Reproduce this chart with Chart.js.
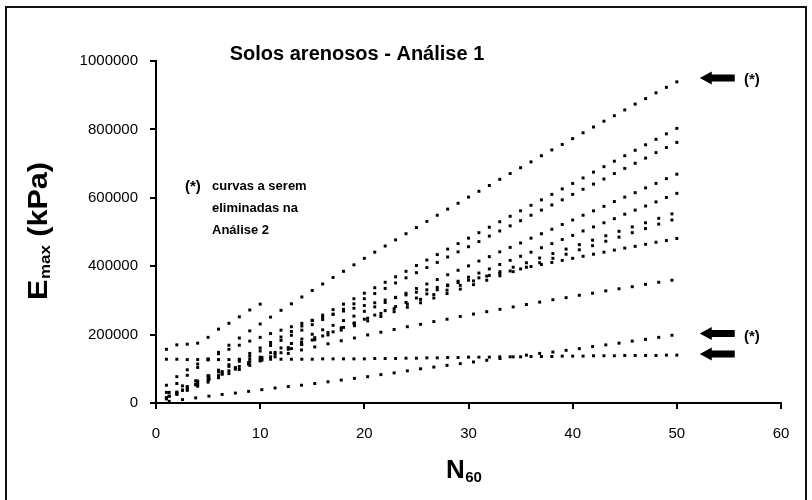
<!DOCTYPE html>
<html>
<head>
<meta charset="utf-8">
<title>Solos arenosos - Análise 1</title>
<script src="https://cdn.jsdelivr.net/npm/chart.js@4.4.0/dist/chart.umd.min.js"></script>
<style>
  html, body { margin: 0; padding: 0; background: #fff; }
</style>
</head>
<body>
<canvas id="emaxChart" width="812" height="500"></canvas>
<script>
// N60 values: most correlations at every integer blow count,
// the corrected ones (factor 1.27) on their own grid
const n60Steps = [1, 2, 3, 4, 5, 6, 7, 8, 9, 10, 11, 12, 13, 14, 15, 16, 17, 18, 19, 20,
  21, 22, 23, 24, 25, 26, 27, 28, 29, 30, 31, 32, 33, 34, 35, 36, 37, 38, 39, 40,
  41, 42, 43, 44, 45, 46, 47, 48, 49, 50];
const n60Corrected = [1.27, 2.54, 3.81, 5.08, 6.35, 7.62, 8.89, 10.16, 11.43, 12.70,
  13.97, 15.24, 16.51, 17.78, 19.05, 20.32, 21.59, 22.86, 24.13, 25.40,
  26.67, 27.94, 29.21, 30.48, 31.75, 33.02, 34.29, 35.56, 36.83, 38.10,
  39.37, 40.64, 41.91, 43.18, 44.45, 45.72, 46.99, 48.26, 49.53];
const n60Short = [1, 2, 3, 4, 5, 6, 7, 8, 9, 10];

// Emax (kPa) for each correlation
const emaxA = [31000, 57000, 81000, 104000, 126000, 148000, 169000, 190000, 211000, 231000,
  251000, 271000, 290000, 310000, 329000, 348000, 367000, 385000, 404000, 423000,
  441000, 459000, 477000, 495000, 513000, 531000, 549000, 567000, 584000, 602000,
  619000, 636000, 654000, 671000, 688000, 705000, 723000, 740000, 756000, 773000,
  790000, 807000, 824000, 840000, 857000, 874000, 890000, 907000, 923000, 939000];
const emaxB = [16000, 32000, 48000, 64000, 80000, 96000, 112000, 128000, 145000, 161000,
  177000, 193000, 209000, 225000, 241000, 257000, 273000, 289000, 305000, 321000,
  337000, 353000, 369000, 385000, 402000, 418000, 434000, 450000, 466000, 482000,
  498000, 514000, 530000, 546000, 562000, 578000, 594000, 610000, 626000, 642000,
  658000, 675000, 691000, 707000, 723000, 739000, 755000, 771000, 787000, 803000];
const emaxC = [15000, 30000, 46000, 61000, 76000, 91000, 107000, 122000, 137000, 152000,
  168000, 183000, 198000, 213000, 229000, 244000, 259000, 274000, 290000, 305000,
  320000, 335000, 351000, 366000, 381000, 396000, 411000, 427000, 442000, 457000,
  472000, 488000, 503000, 518000, 533000, 549000, 564000, 579000, 594000, 610000,
  625000, 640000, 655000, 671000, 686000, 701000, 716000, 732000, 747000, 762000];
const emaxD = [13000, 27000, 40000, 54000, 67000, 80000, 94000, 107000, 120000, 134000,
  147000, 161000, 174000, 187000, 201000, 214000, 227000, 241000, 254000, 268000,
  281000, 294000, 308000, 321000, 335000, 348000, 361000, 375000, 388000, 401000,
  415000, 428000, 442000, 455000, 468000, 482000, 495000, 508000, 522000, 535000,
  549000, 562000, 575000, 589000, 602000, 615000, 629000, 642000, 656000, 669000];
const emaxE = [12000, 25000, 37000, 49000, 61000, 74000, 86000, 98000, 110000, 123000,
  135000, 147000, 159000, 172000, 184000, 196000, 208000, 221000, 233000, 245000,
  257000, 270000, 282000, 294000, 307000, 319000, 331000, 343000, 356000, 368000,
  380000, 392000, 405000, 417000, 429000, 441000, 454000, 466000, 478000, 490000,
  503000, 515000, 527000, 539000, 552000, 564000, 576000, 588000, 601000, 613000];
const emaxG = [52000, 77000, 97000, 114000, 129000, 144000, 157000, 169000, 181000, 192000,
  203000, 213000, 223000, 233000, 242000, 251000, 260000, 269000, 277000, 285000,
  293000, 301000, 309000, 316000, 324000, 331000, 338000, 345000, 352000, 359000,
  366000, 373000, 379000, 386000, 392000, 399000, 405000, 411000, 417000, 423000,
  429000, 435000, 441000, 447000, 453000, 458000, 464000, 470000, 475000, 481000];
const emaxJ = [128000, 128000, 127000, 127000, 127000, 127000, 127000, 127000, 128000, 128000,
  128000, 128000, 128000, 128000, 128000, 129000, 129000, 129000, 129000, 129000,
  130000, 130000, 130000, 131000, 131000, 132000, 132000, 133000, 133000, 134000,
  134000, 134000, 135000, 135000, 135000, 136000, 136000, 136000, 137000, 137000,
  137000, 138000, 138000, 138000, 139000, 139000, 139000, 139000, 140000, 140000];
const emaxK = [157000, 170000, 172000, 175000, 192000, 216000, 233000, 252000, 272000, 289000];
const emaxF1 = [20000, 38000, 55000, 71000, 87000, 103000, 118000, 133000, 148000, 162000,
  177000, 191000, 206000, 220000, 234000, 248000, 262000, 276000, 289000, 303000,
  317000, 330000, 344000, 357000, 371000, 384000, 397000, 410000, 424000, 437000,
  450000, 463000, 476000, 489000, 502000, 515000, 527000, 540000, 553000];
const emaxF2 = [20000, 37000, 53000, 69000, 84000, 99000, 114000, 129000, 143000, 157000,
  171000, 185000, 199000, 213000, 226000, 240000, 253000, 267000, 280000, 293000,
  307000, 320000, 333000, 346000, 359000, 372000, 384000, 397000, 410000, 423000,
  435000, 448000, 460000, 473000, 485000, 498000, 510000, 523000, 535000];
const emaxH = [31000, 50000, 65000, 79000, 92000, 103000, 115000, 125000, 135000, 145000,
  155000, 164000, 173000, 182000, 190000, 199000, 207000, 215000, 223000, 230000,
  238000, 245000, 253000, 260000, 267000, 274000, 281000, 288000, 295000, 302000,
  308000, 315000, 321000, 328000, 334000, 340000, 347000, 353000, 359000];
const emaxI = [5000, 10000, 15000, 20000, 25000, 29000, 34000, 39000, 44000, 48000,
  52000, 57000, 62000, 67000, 72000, 77000, 83000, 88000, 94000, 100000,
  105000, 110000, 115000, 120000, 125000, 130000, 135000, 140000, 145000, 149000,
  154000, 159000, 165000, 170000, 175000, 181000, 186000, 192000, 198000];

// arrows marking the curves dropped in the second analysis
const arrowN = [52.2, 52.2, 52.2];
const arrowEmax = [950000, 203000, 143000];

const xTicks = { min: 0, max: 60, step: 10 };
const yTicks = { min: 0, max: 1000000, step: 200000 };

function toPoints(xs, ys) {
  return ys.map((y, i) => ({ x: xs[i], y: y }));
}

const series = [
  [n60Steps, emaxA], [n60Steps, emaxB], [n60Steps, emaxC], [n60Steps, emaxD],
  [n60Steps, emaxE], [n60Steps, emaxG], [n60Steps, emaxJ], [n60Short, emaxK],
  [n60Corrected, emaxF1], [n60Corrected, emaxF2], [n60Corrected, emaxH], [n60Corrected, emaxI]
];

const datasets = series.map((s, i) => ({
  label: 'curva ' + (i + 1),
  data: toPoints(s[0], s[1]),
  pointStyle: 'rect',
  pointRadius: 2.1,
  pointBorderWidth: 0,
  pointBackgroundColor: '#000',
  backgroundColor: '#000',
  showLine: false
}));

const FONT = '"Liberation Sans", Arial, sans-serif';

function drawText(ctx, text, x, y, font, align) {
  ctx.save();
  ctx.font = font;
  ctx.textAlign = align || 'left';
  ctx.textBaseline = 'alphabetic';
  ctx.fillStyle = '#000';
  ctx.fillText(text, x, y);
  ctx.restore();
}

const decorations = {
  id: 'decorations',
  beforeDraw(chart) {
    const ctx = chart.ctx;
    ctx.save();
    ctx.fillStyle = '#fff';
    ctx.fillRect(0, 0, chart.width, chart.height);
    ctx.strokeStyle = '#111';
    ctx.lineWidth = 2;
    ctx.strokeRect(6, 7, 800, 510);
    ctx.restore();
  },
  afterDraw(chart) {
    const ctx = chart.ctx;
    const xs = chart.scales.x;
    const ys = chart.scales.y;

    // title
    drawText(ctx, 'Solos arenosos - Análise 1', 357, 60, 'bold 20px ' + FONT, 'center');

    // note about removed curves
    const noteFont = 'bold 13px ' + FONT;
    const starFont = 'bold 15px ' + FONT;
    drawText(ctx, '(*)', 185, 191, starFont);
    drawText(ctx, 'curvas a serem', 212, 190, noteFont);
    drawText(ctx, 'eliminadas na', 212, 212, noteFont);
    drawText(ctx, 'Análise 2', 212, 234, noteFont);

    // arrows
    ctx.save();
    ctx.fillStyle = '#000';
    arrowN.forEach((n, i) => {
      const px = xs.getPixelForValue(n);
      const py = ys.getPixelForValue(arrowEmax[i]);
      ctx.beginPath();
      ctx.moveTo(px, py);
      ctx.lineTo(px + 12, py - 6.5);
      ctx.lineTo(px + 12, py - 3.5);
      ctx.lineTo(px + 35, py - 3.5);
      ctx.lineTo(px + 35, py + 3.5);
      ctx.lineTo(px + 12, py + 3.5);
      ctx.lineTo(px + 12, py + 6.5);
      ctx.closePath();
      ctx.fill();
    });
    ctx.restore();
    const topArrowY = ys.getPixelForValue(arrowEmax[0]);
    const lowArrowY = (ys.getPixelForValue(arrowEmax[1]) + ys.getPixelForValue(arrowEmax[2])) / 2;
    drawText(ctx, '(*)', 744, topArrowY + 6, starFont);
    drawText(ctx, '(*)', 744, lowArrowY - 3, starFont);

    // y axis title: E max (kPa)
    ctx.save();
    ctx.translate(47, 300);
    ctx.rotate(-Math.PI / 2);
    ctx.scale(1.13, 1);
    ctx.fillStyle = '#000';
    ctx.font = 'bold 27px ' + FONT;
    ctx.fillText('E', 0, 0);
    let w = ctx.measureText('E').width;
    ctx.font = 'bold 15px ' + FONT;
    ctx.fillText('max', w + 0.5, 3);
    w += ctx.measureText('max').width + 0.5;
    ctx.font = 'bold 27px ' + FONT;
    ctx.fillText(' (kPa)', w, 0);
    ctx.restore();

    // x axis title: N60
    ctx.save();
    ctx.fillStyle = '#000';
    ctx.font = 'bold 26px ' + FONT;
    ctx.fillText('N', 446, 478);
    const nw = ctx.measureText('N').width;
    ctx.font = 'bold 15px ' + FONT;
    ctx.fillText('60', 446 + nw + 0.5, 482);
    ctx.restore();
  }
};

const tickFont = { family: 'Liberation Sans', size: 15 };

new Chart(document.getElementById('emaxChart'), {
  type: 'scatter',
  data: { datasets: datasets },
  options: {
    responsive: false,
    animation: false,
    devicePixelRatio: 1,
    layout: { padding: { left: 0, right: 31, top: 61, bottom: 0 } },
    plugins: {
      legend: { display: false },
      tooltip: { enabled: false },
      title: { display: false }
    },
    scales: {
      x: {
        type: 'linear',
        min: xTicks.min,
        max: xTicks.max,
        ticks: { stepSize: xTicks.step, font: tickFont, color: '#000', padding: 16, maxRotation: 0 },
        grid: { drawOnChartArea: false, color: '#000', lineWidth: 2, tickLength: 6 },
        border: { color: '#000', width: 2 },
        afterFit: (scale) => { scale.height = 97; }
      },
      y: {
        min: yTicks.min,
        max: yTicks.max,
        ticks: { stepSize: yTicks.step, font: tickFont, color: '#000', padding: 12,
          callback: (v) => String(v) },
        grid: { drawOnChartArea: false, color: '#000', lineWidth: 2, tickLength: 6 },
        border: { color: '#000', width: 2 },
        afterFit: (scale) => { scale.width = 156; }
      }
    }
  },
  plugins: [decorations]
});
</script>
</body>
</html>
